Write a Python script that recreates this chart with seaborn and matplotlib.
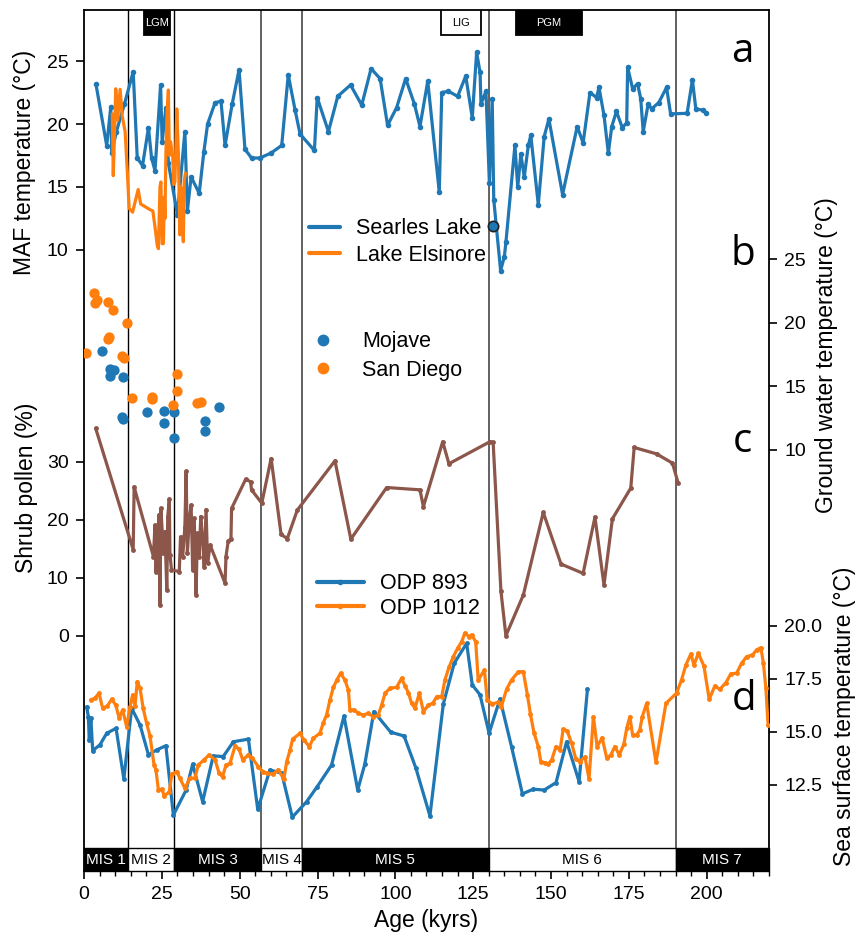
import matplotlib
matplotlib.use("Agg")
import matplotlib.pyplot as plt
import seaborn as sns
import numpy as np
from matplotlib.lines import Line2D
from matplotlib.patches import Rectangle
from matplotlib import font_manager

# ---------------- data ----------------
searles_age = [3.85, 7.3, 8.6, 8.9, 10.4, 13.0, 15.8, 17.1, 18.8, 20.7, 21.7, 22.8, 24.6, 25.1, 26.3, 27.1,
               30.0, 32.4, 33.2, 34.4, 37.0, 38.5, 39.7, 42.1, 44.0, 45.3, 47.6, 49.8, 51.7, 53.8, 56.5,
               60.1, 63.5, 65.6, 67.8, 69.4, 74.0, 74.9, 78.5, 81.5, 85.6, 89.2, 92.2, 95.1, 97.5, 100.4,
               103.3, 106.1, 107.9, 110.4, 114.1, 114.9, 117.0, 120.0, 122.6, 124.7, 126.1, 127.2, 127.5,
               129.1, 130.2, 131.1, 131.6, 133.8, 135.0, 135.5, 138.4, 139.3, 140.3, 141.4, 142.7, 143.5,
               145.9, 147.8, 149.3, 153.7, 158.4, 160.3, 162.5, 164.6, 165.4, 167.0, 168.4, 169.5, 171.0,
               172.9, 174.3, 174.6, 176.2, 177.8, 178.8, 179.6, 181.2, 182.3, 184.6, 187.1, 188.4, 193.7,
               195.4, 196.5, 198.7, 199.7]
searles_maf = [23.15, 18.28, 21.37, 17.67, 19.4, 21.6, 24.15, 17.3, 16.7, 19.7, 17.3, 16.3, 23.1, 18.6, 21.3, 16.9,
               12.8, 19.4, 13.1, 15.8, 14.5, 17.8, 20.0, 21.7, 21.8, 18.3, 21.6, 24.3, 18.0, 17.3, 17.3,
               17.7, 18.3, 23.9, 21.1, 19.2, 17.9, 22.1, 19.4, 22.2, 23.1, 21.5, 24.4, 23.6, 19.9, 21.3,
               23.6, 21.6, 19.8, 23.4, 14.6, 22.5, 22.6, 22.2, 23.8, 20.5, 25.7, 24.1, 21.6,
               22.6, 15.3, 22.0, 14.0, 8.36, 9.47, 10.6, 18.3, 15.0, 17.6, 15.8, 18.3, 19.1,
               13.6, 19.0, 20.4, 14.4, 19.8, 18.5, 22.5, 22.1, 22.9, 20.7, 17.7, 19.8, 21.0,
               19.7, 20.1, 24.5, 22.8, 23.2, 22.0, 19.4, 21.6, 21.2, 21.7, 22.9, 20.8, 20.85,
               23.5, 21.2, 21.1, 20.9]
searles_marked_age = [131.5]
searles_marked_maf = [11.9]

elsinore_age = [9.1, 9.4, 10.2, 10.8, 11.6, 12.3, 13.2, 13.9, 14.5, 15.6, 17.4, 18.2, 21.2, 22.1, 22.8, 23.5,
                23.9, 24.4, 24.7, 25.1, 25.5, 25.8, 26.0, 26.3, 26.7, 27.1, 27.4, 27.8, 28.5, 28.8, 29.2,
                29.8, 30.3, 30.8, 31.1, 31.4, 31.9, 32.2, 32.6]
elsinore_maf = [20.8, 15.9, 22.8, 20.3, 22.75, 20.6, 19.4, 16.3, 13.3, 13.0, 14.8, 13.65, 13.2, 13.1, 11.85, 10.4,
                10.1, 15.0, 15.4, 10.5, 10.5, 14.2, 12.5, 17.7, 21.0, 22.7, 17.5, 18.6, 17.4, 15.2, 15.4,
                21.2, 17.7, 11.2, 15.0, 13.8, 10.65, 15.5, 16.1]

mojave_age = [5.9, 8.3, 9.7, 8.3, 12.6, 12.1, 12.4, 20.3, 25.7, 25.7, 28.9, 28.9, 38.9, 38.9, 43.4]
mojave_gw = [17.8, 16.4, 16.3, 15.8, 15.7, 12.6, 12.4, 12.96, 13.1, 12.1, 12.96, 10.97, 12.3, 11.5, 13.35]

sandiego_age = [3.2, 3.5, 4.1, 7.8, 9.2, 13.9, 7.8, 7.9, 0.6, 12.1, 12.9, 29.8, 30.0, 15.3, 21.7, 21.8,
                28.5, 36.2, 37.5]
sandiego_gw = [22.36, 21.57, 21.8, 21.65, 21.0, 20.0, 18.7, 18.9, 17.6, 17.4, 17.25, 15.95, 14.6, 14.1, 14.2,
               14.0, 13.5, 13.7, 13.8]

shrub_age = [3.75, 15.8, 16.1, 22.3, 22.8, 23.1, 23.7, 24.1, 24.4, 24.7, 25.5, 26.0, 26.6, 26.9, 27.4, 27.6,
             28.1, 30.6, 31.0, 31.7, 32.4, 32.8, 33.2, 33.8, 34.4, 34.9, 35.4, 36.0, 36.4, 37.0, 37.5, 38.1,
             38.6, 39.2, 39.7, 40.5, 45.3, 45.6, 46.3, 47.2, 47.4, 51.9, 53.5, 53.8, 57.1, 60.1, 63.3, 65.3,
             68.5, 80.6, 85.7, 97.2, 107.9, 109.0, 115.2, 117.2, 130.4, 131.4, 133.9, 135.5, 141.1, 147.5,
             153.2, 160.3, 164.1, 167.0, 169.7, 175.6, 176.7, 183.9, 189.0, 190.8]
shrub_pct = [35.8, 14.9, 25.7, 13.7, 19.1, 11.1, 16.6, 20.9, 5.3, 22.0, 14.3, 18.0, 7.9, 20.6, 23.6, 14.0,
             11.4, 11.1, 17.1, 13.7, 18.8, 28.4, 14.3, 20.0, 22.6, 11.4, 20.3, 7.1, 17.7, 13.7, 20.6, 16.6,
             11.95, 21.8, 12.5, 15.7, 9.1, 13.7, 16.3, 16.8, 22.0, 27.0, 26.6, 25.2, 22.9, 30.6, 17.5, 16.8,
             21.7, 30.2, 16.7, 25.6, 25.2, 22.3, 33.5, 29.7, 33.5, 33.4, 7.76, 0.05, 7.07, 21.3,
             12.4, 10.8, 20.5, 8.8, 20.2, 25.5, 32.5, 31.4, 29.8, 26.4]

odp893_age = [0.85, 1.4, 1.7, 2.2, 2.8, 5.1, 7.3, 10.3, 12.8, 15.3, 18.0, 20.7, 23.3, 26.3, 28.7, 32.8,
              34.9, 38.1, 41.5, 44.7, 48.0, 52.8, 55.8, 59.7, 63.5, 66.9, 71.5, 74.9, 79.5, 83.5, 87.9,
              90.2, 93.1, 98.5, 102.8, 106.6, 111.1, 115.4, 118.9, 122.9, 124.7, 127.2, 130.1, 133.6,
              137.3, 140.8, 144.3, 147.8, 151.6, 155.0, 159.0, 161.7]
odp893_sst = [16.19, 15.72, 14.6, 15.65, 14.12, 14.39, 14.94, 15.17, 12.78, 16.12, 15.33, 13.92, 14.15, 14.35,
              11.08, 12.26, 13.48, 11.71, 13.87, 13.84, 14.54, 14.66, 11.35, 13.21, 13.05, 10.98, 11.71,
              12.42, 13.44, 15.75, 12.26, 13.49, 15.96, 14.99, 14.81, 13.29, 11.04, 16.32, 18.24, 19.18,
              17.22, 16.75, 14.94, 16.56, 14.31, 12.08, 12.3, 12.26, 12.61, 14.54, 12.66, 17.03]

odp1012_age = [2.1, 3.5, 4.8, 6.0, 7.5, 8.9, 10.2, 11.3, 12.4, 13.7, 14.8, 15.6, 16.4, 17.1, 18.0, 19.0,
               20.1, 21.2, 22.5, 23.1, 23.9, 25.0, 25.8, 27.4, 28.2, 29.8, 30.8, 32.4, 34.0, 35.6, 36.7,
               38.5, 40.2, 42.1, 43.4, 44.5, 45.6, 46.9, 48.5, 49.8, 51.0, 52.8, 54.1, 56.0, 57.4, 58.9,
               60.6, 62.4, 64.2, 65.1, 66.2, 67.0, 69.4, 70.6, 72.4, 73.6, 75.8, 76.8, 77.9, 79.0, 80.1,
               81.2, 82.4, 83.8, 84.9, 85.4, 86.7, 88.1, 89.7, 91.3, 92.9, 94.5, 95.6, 96.7, 98.3, 100.4,
               102.0, 103.1, 104.2, 105.2, 106.3, 107.7, 109.0, 110.6, 112.0, 113.3, 114.9, 115.9, 117.3,
               118.6, 120.0, 121.3, 122.3, 123.7, 124.5, 125.8, 126.6, 128.6, 129.5, 131.1, 133.0, 134.0,
               135.7, 137.3, 139.5, 141.1, 142.4, 143.4, 144.5, 145.9, 146.7, 148.1, 149.1, 150.2, 151.6,
               152.9, 153.9, 155.2, 156.6, 158.0, 159.3, 160.9, 162.2, 163.6, 164.8, 166.4, 167.9, 169.2,
               170.5, 171.9, 173.4, 174.3, 175.3, 176.2, 177.5, 178.5, 179.3, 180.7, 183.7, 186.9, 190.3,
               191.9, 193.3, 194.9, 195.9, 197.3, 199.1, 200.8, 202.6, 204.2, 206.2, 207.7, 209.6, 211.2,
               212.8, 214.7, 216.0, 217.4, 218.2, 219.0, 219.7]
odp1012_sst = [16.51, 16.59, 16.83, 16.12, 16.23, 16.54, 16.27, 15.65, 16.04, 15.25, 16.19, 16.75, 16.23, 17.37,
               17.06, 16.12, 15.41, 14.81, 13.44, 13.21, 12.26, 12.3, 11.98, 12.18, 13.02, 13.13, 12.82,
               12.34, 12.82, 12.82, 13.44, 13.68, 13.92, 13.68, 13.05, 12.89, 13.44, 13.52, 14.34, 14.18,
               13.68, 13.92, 13.76, 13.36, 13.13, 13.05, 13.0, 13.21, 12.78, 13.6, 14.15, 14.66, 14.94,
               14.62, 14.31, 14.7, 14.94, 15.41, 15.8, 16.51, 17.11, 17.45, 17.77, 17.45, 16.98, 16.04,
               16.04, 15.88, 15.8, 15.88, 15.72, 15.8, 16.27, 16.83, 17.06, 17.11, 17.53, 17.17, 16.85,
               16.35, 16.12, 16.83, 15.96, 16.27, 16.35, 16.67, 16.67, 17.45, 18.08, 18.55, 18.95, 19.26,
               19.66, 19.5, 19.58, 19.26, 17.45, 17.92, 16.51, 16.32, 16.4, 16.17, 17.01, 17.45, 17.84,
               17.84, 16.75, 15.83, 14.97, 14.31, 13.6, 13.55, 13.48, 13.68, 14.31, 14.15, 15.13, 15.05,
               14.47, 13.71, 13.6, 13.83, 12.77, 15.72, 14.31, 14.73, 13.76, 13.92, 14.31, 13.92, 14.43,
               15.17, 15.72, 14.86, 14.86, 15.09, 15.72, 16.35, 13.57, 16.35, 16.83, 17.45, 18.16, 18.68,
               18.16, 18.71, 18.11, 16.54, 17.17, 17.01, 17.33, 17.74, 17.77, 18.24, 18.55, 18.63, 18.87,
               18.98, 18.24, 17.06, 15.33]

mis_bounds = [0, 14, 29, 57, 70, 130, 190, 220]
mis_labels = ["MIS 1", "MIS 2", "MIS 3", "MIS 4", "MIS 5", "MIS 6", "MIS 7"]
mis_dark = [True, False, True, False, True, False, True]
event_labels = ["LGM", "LIG", "PGM"]
event_start = [19.3, 114.6, 138.7]
event_end = [27.5, 127.5, 159.9]
event_dark = [True, False, True]
panel_letters = ["a", "b", "c", "d"]

# ---------------- style ----------------
sns.set_style("ticks")
plt.rcParams["font.family"] = ["Liberation Sans", "DejaVu Sans"]
for k in ["text.color", "axes.labelcolor", "xtick.color", "ytick.color", "axes.edgecolor"]:
    plt.rcParams[k] = "black"
avail = {f.name for f in font_manager.fontManager.ttflist}
mis_font = "Liberation Sans Narrow" if "Liberation Sans Narrow" in avail else "Liberation Sans"
letter_font = "Open Sans" if "Open Sans" in avail else "DejaVu Sans"

pal = sns.color_palette("tab10")
BLUE, ORANGE, BROWN = pal[0], pal[1], pal[5]

W, H = 862, 941
L, R, T, B = 84, 769, 10, 871
fig = plt.figure(figsize=(W / 100, H / 100), dpi=100)
ax = fig.add_axes([L / W, 1 - B / H, (R - L) / W, (B - T) / H])

def fx(px):
    return px / W

def fy(py):
    return 1 - py / H

def axy(py):
    return (B - py) / (B - T)

TICK_FS = 14
LAB_FS = 16.5
LEG_FS = 15.5

# --- panel a (MAF) on main axes ---
sns.lineplot(x=searles_age, y=searles_maf, ax=ax, color=BLUE, lw=2.3, marker="o", markersize=4,
             markeredgewidth=0, sort=False, estimator=None, legend=False, zorder=3)
sns.lineplot(x=elsinore_age, y=elsinore_maf, ax=ax, color=ORANGE, lw=2.3, sort=False, estimator=None,
             legend=False, zorder=3)
sns.scatterplot(x=searles_marked_age, y=searles_marked_maf, ax=ax, color=BLUE, s=55, edgecolor="#222222",
                linewidth=1.2, zorder=6, legend=False)
ax.set_xlim(0, 220)
ax.set_ylim(-39.3, 29.05)
ax.set_yticks([10, 15, 20, 25])
ax.set_xticks(range(0, 201, 25))
ax.set_xticks(range(0, 221, 5), minor=True)
ax.tick_params(axis="both", which="major", direction="out", length=6, width=1.2, labelsize=TICK_FS, pad=5,
               color="black", labelcolor="black")
ax.tick_params(axis="x", which="minor", direction="out", length=3.5, width=1.0, color="black")
for s in ax.spines.values():
    s.set_linewidth(1.3)
    s.set_color("black")
ax.set_xlabel("Age (kyrs)", fontsize=LAB_FS, labelpad=4, color="black")
ax.set_ylabel("MAF temperature (°C)", fontsize=LAB_FS, color="black")
ax.yaxis.set_label_coords((36 - L) / (R - L), axy(162))

leg1 = ax.legend(handles=[Line2D([], [], color=BLUE, lw=3), Line2D([], [], color=ORANGE, lw=3)],
                 labels=["Searles Lake", "Lake Elsinore"], loc="center left",
                 bbox_to_anchor=(fx(300), fy(242)), bbox_transform=fig.transFigure, frameon=False,
                 fontsize=LEG_FS, handlelength=1.45, handletextpad=0.75, labelspacing=0.25, borderaxespad=0)

# vertical MIS boundary lines
for b in mis_bounds[1:-1]:
    col = "black" if b < 40 else "#555555"
    lw = 1.0 if b < 40 else 1.3
    ax.axvline(b, ymin=axy(848), ymax=1, color=col, lw=lw, zorder=1)

# MIS bar
tr = ax.get_xaxis_transform()
for i, lab in enumerate(mis_labels):
    x0, x1 = mis_bounds[i], mis_bounds[i + 1]
    dark = mis_dark[i]
    ax.add_patch(Rectangle((x0, 0), x1 - x0, axy(848), transform=tr, facecolor="black" if dark else "white",
                           edgecolor="black", lw=1.0, zorder=5, clip_on=False))
    ax.text((x0 + x1) / 2, axy(859.5), lab, transform=tr, ha="center", va="center", fontsize=11,
            family=mis_font, color="white" if dark else "black", zorder=6)

# top event boxes
for lab, x0, x1, dark in zip(event_labels, event_start, event_end, event_dark):
    ax.add_patch(Rectangle((x0, axy(35)), x1 - x0, axy(T) - axy(35), transform=tr,
                           facecolor="black" if dark else "white", edgecolor="black", lw=1.3, zorder=5))
    ax.text((x0 + x1) / 2, axy(23), lab, transform=tr, ha="center", va="center", fontsize=8,
            color="white" if dark else "black", zorder=6)

# --- panel b (ground water) ---
ax_b = ax.twinx()
sns.scatterplot(x=mojave_age, y=mojave_gw, ax=ax_b, color=BLUE, s=55, linewidth=0, legend=False, zorder=3)
sns.scatterplot(x=sandiego_age, y=sandiego_gw, ax=ax_b, color=ORANGE, s=55, linewidth=0, legend=False, zorder=3)
ax_b.set_ylim(-23.07, 44.56)
ax_b.set_yticks([10, 15, 20, 25])
ax_b.set_ylabel("Ground water temperature (°C)", fontsize=LAB_FS, color="black")
ax_b.yaxis.set_label_coords((815 - L) / (R - L), axy(355))
mk = dict(marker="o", color="none", markersize=8.5, markeredgewidth=0)
leg2 = ax_b.legend(handles=[Line2D([], [], markerfacecolor=BLUE, **mk), Line2D([], [], markerfacecolor=ORANGE, **mk)],
                   labels=["Mojave", "San Diego"], loc="center left",
                   bbox_to_anchor=(fx(293), fy(356)), bbox_transform=fig.transFigure, frameon=False,
                   fontsize=LEG_FS, handlelength=2.0, handletextpad=0.8, labelspacing=0.35, borderaxespad=0)

# --- panel c (shrub pollen) ---
ax_c = ax.twinx()
ax_c.yaxis.tick_left()
ax_c.yaxis.set_label_position("left")
sns.lineplot(x=shrub_age, y=shrub_pct, ax=ax_c, color=BROWN, lw=2.3, marker="o", markersize=3.5,
             markeredgewidth=0, sort=False, estimator=None, legend=False, zorder=3)
ax_c.set_ylim(-40.52, 107.93)
ax_c.set_yticks([0, 10, 20, 30])
ax_c.set_ylabel("Shrub pollen (%)", fontsize=LAB_FS, color="black")
ax_c.yaxis.set_label_coords((38 - L) / (R - L), axy(488))

# --- panel d (SST) ---
ax_d = ax.twinx()
sns.lineplot(x=odp893_age, y=odp893_sst, ax=ax_d, color=BLUE, lw=2.3, marker="o", markersize=3.5,
             markeredgewidth=0, sort=False, estimator=None, legend=False, zorder=3)
sns.lineplot(x=odp1012_age, y=odp1012_sst, ax=ax_d, color=ORANGE, lw=2.3, marker="o", markersize=3.5,
             markeredgewidth=0, sort=False, estimator=None, legend=False, zorder=3)
ax_d.set_ylim(8.44, 49.06)
ax_d.set_yticks([12.5, 15.0, 17.5, 20.0])
ax_d.set_yticklabels(["12.5", "15.0", "17.5", "20.0"])
ax_d.set_ylabel("Sea surface temperature (°C)", fontsize=LAB_FS, color="black")
ax_d.yaxis.set_label_coords((833 - L) / (R - L), axy(716))
lk = dict(lw=3, marker="o", markersize=4, markeredgewidth=0)
leg3 = ax_d.legend(handles=[Line2D([], [], color=BLUE, **lk), Line2D([], [], color=ORANGE, **lk)],
                   labels=["ODP 893", "ODP 1012"], loc="center left",
                   bbox_to_anchor=(fx(308), fy(596)), bbox_transform=fig.transFigure, frameon=False,
                   fontsize=LEG_FS, handlelength=2.2, handletextpad=0.75, labelspacing=0.15, borderaxespad=0)

for a in (ax_b, ax_c, ax_d):
    a.set_xlim(0, 220)
    for s in a.spines.values():
        s.set_visible(False)
    a.tick_params(axis="y", direction="out", length=6, width=1.2, labelsize=TICK_FS, pad=5,
                  color="black", labelcolor="black")

# panel letters
for lab, px, py in zip(panel_letters, [731, 731, 733, 732], [62, 265, 452, 710]):
    fig.text(fx(px), fy(py), lab, fontsize=29, family=letter_font, ha="left", va="baseline", color="black")

fig.savefig("out.png", dpi=100, facecolor="white")
